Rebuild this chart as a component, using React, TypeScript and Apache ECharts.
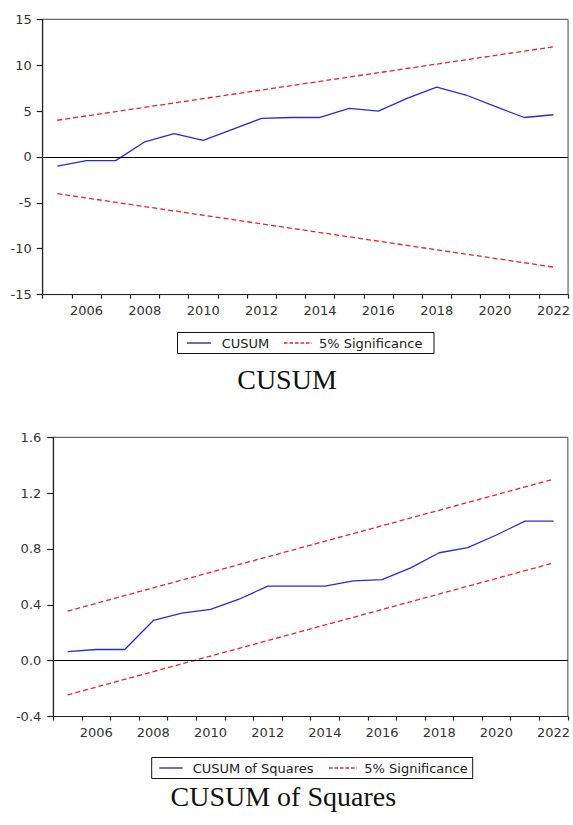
import React, { useEffect, useRef } from "react";
import * as echarts from "echarts";

const years = ["2005","2006","2007","2008","2009","2010","2011","2012","2013","2014","2015","2016","2017","2018","2019","2020","2021","2022"];

const cusum = [-1.0, -0.4, -0.4, 1.65, 2.55, 1.8, 3.0, 4.2, 4.3, 4.3, 5.3, 5.0, 6.4, 7.6, 6.75, 5.5, 4.3, 4.6];
const cusumUpper = [4, null, null, null, null, null, null, null, null, null, null, null, null, null, null, null, null, 12];
const cusumLower = [-4, null, null, null, null, null, null, null, null, null, null, null, null, null, null, null, null, -12];

const cusumSq = [0.064, 0.08, 0.08, 0.288, 0.34, 0.367, 0.44, 0.534, 0.534, 0.534, 0.572, 0.58, 0.665, 0.773, 0.81, 0.9, 1.0, 1.0];
const sqUpper = [0.355, null, null, null, null, null, null, null, null, null, null, null, null, null, null, null, null, 1.3];
const sqLower = [-0.245, null, null, null, null, null, null, null, null, null, null, null, null, null, null, null, null, 0.7];

const topTicks = { min: -15, max: 15, interval: 5 };
const bottomTicks = { min: -0.4, max: 1.6, interval: 0.4 };

const BLUE = "#2b2bd6";
const RED = "#e3262f";
const AXIS = "#222";
const LABEL_FONT = "DejaVu Sans";

export default function App() {
  const ref = useRef<HTMLDivElement>(null);
  useEffect(() => {
    if (!ref.current) return;
    const chart = echarts.init(ref.current, undefined, { renderer: "svg" });

    const xAxisBase = (gridIndex: number) => ({
      type: "category",
      gridIndex,
      data: years,
      boundaryGap: true,
      axisLine: { show: true, onZero: false, lineStyle: { color: AXIS, width: 1.2 } },
      axisTick: { show: true, interval: 0, alignWithLabel: false, length: 4, lineStyle: { color: AXIS, width: 1.2 } },
      axisLabel: {
        interval: (i: number) => i % 2 === 1,
        margin: 9,
        fontFamily: LABEL_FONT,
        fontSize: 13,
        color: "#333",
      },
      splitLine: { show: false },
    });

    const yAxisBase = (gridIndex: number, t: any, margin: number, fmt: (v: number) => string) => ({
      type: "value",
      gridIndex,
      min: t.min,
      max: t.max,
      interval: t.interval,
      axisLine: { show: true, onZero: false, lineStyle: { color: AXIS, width: 1.2 } },
      axisTick: { show: true, length: 6, lineStyle: { color: AXIS, width: 1.2 } },
      axisLabel: { margin, fontFamily: LABEL_FONT, fontSize: 13, color: "#333", formatter: fmt },
      splitLine: { show: false },
    });

    const zeroLine = {
      silent: true,
      symbol: ["none", "none"],
      label: { show: false },
      lineStyle: { color: "#000", type: "solid", width: 1.2 },
      data: [{ yAxis: 0 }],
    };

    const legendBox = (x: number, y: number, w: number, label1: string, t1x: number, l1: [number, number], l2: [number, number], t2x: number) => ({
      type: "group",
      children: [
        { type: "rect", shape: { x, y, width: w, height: 21 }, style: { fill: "#fff", stroke: "#111", lineWidth: 1 } },
        { type: "line", shape: { x1: l1[0], y1: y + 10.5, x2: l1[1], y2: y + 10.5 }, style: { stroke: "#20208a", lineWidth: 1.3 } },
        { type: "text", x: t1x, y: y + 10.5, style: { text: label1, font: `13px '${LABEL_FONT}'`, fill: "#222", verticalAlign: "middle", align: "left" } },
        { type: "line", shape: { x1: l2[0], y1: y + 10.5, x2: l2[1], y2: y + 10.5 }, style: { stroke: RED, lineWidth: 1.3, lineDash: [3.5, 2] } },
        { type: "text", x: t2x, y: y + 10.5, style: { text: "5% Significance", font: `13px '${LABEL_FONT}'`, fill: "#222", verticalAlign: "middle", align: "left" } },
      ],
    });

    const option: any = {
      animation: false,
      backgroundColor: "#fff",
      grid: [
        { left: 42.7, top: 19.3, width: 526, height: 275.3, show: true, borderColor: "#444", borderWidth: 1, containLabel: false },
        { left: 53.3, top: 437.3, width: 518.7, height: 279.2, show: true, borderColor: "#444", borderWidth: 1, containLabel: false },
      ],
      xAxis: [xAxisBase(0), xAxisBase(1)],
      yAxis: [
        yAxisBase(0, topTicks, 11, (v: number) => String(Math.round(v))),
        yAxisBase(1, bottomTicks, 12, (v: number) => (Math.abs(v) < 1e-9 ? "0.0" : v.toFixed(1))),
      ],
      series: [
        { name: "CUSUM", type: "line", xAxisIndex: 0, yAxisIndex: 0, data: cusum, symbol: "none", lineStyle: { color: BLUE, width: 1.3 }, itemStyle: { color: BLUE }, markLine: zeroLine, z: 3 },
        { name: "5% Significance", type: "line", xAxisIndex: 0, yAxisIndex: 0, data: cusumUpper, connectNulls: true, symbol: "none", lineStyle: { color: RED, width: 1.3, type: [5, 3] }, itemStyle: { color: RED } },
        { name: "5% Significance", type: "line", xAxisIndex: 0, yAxisIndex: 0, data: cusumLower, connectNulls: true, symbol: "none", lineStyle: { color: RED, width: 1.3, type: [5, 3] }, itemStyle: { color: RED } },
        { name: "CUSUM of Squares", type: "line", xAxisIndex: 1, yAxisIndex: 1, data: cusumSq, symbol: "none", lineStyle: { color: BLUE, width: 1.3 }, itemStyle: { color: BLUE }, markLine: zeroLine, z: 3 },
        { name: "5% Significance", type: "line", xAxisIndex: 1, yAxisIndex: 1, data: sqUpper, connectNulls: true, symbol: "none", lineStyle: { color: RED, width: 1.3, type: [5, 3] }, itemStyle: { color: RED } },
        { name: "5% Significance", type: "line", xAxisIndex: 1, yAxisIndex: 1, data: sqLower, connectNulls: true, symbol: "none", lineStyle: { color: RED, width: 1.3, type: [5, 3] }, itemStyle: { color: RED } },
      ],
      graphic: [
        legendBox(177.5, 332.5, 256.5, "CUSUM", 221.7, [187, 211], [284, 312], 319),
        legendBox(151.7, 757.5, 321, "CUSUM of Squares", 192.7, [159.3, 182.7], [329, 357], 364.3),
        { type: "text", x: 287, y: 379, style: { text: "CUSUM", font: "28px 'Liberation Serif'", fill: "#111", align: "center", verticalAlign: "middle" } },
        { type: "text", x: 283.3, y: 796, style: { text: "CUSUM of Squares", font: "28px 'Liberation Serif'", fill: "#111", align: "center", verticalAlign: "middle" } },
      ],
    };

    chart.setOption(option);
    return () => chart.dispose();
  }, []);

  return <div ref={ref} style={{ position: "absolute", left: 0, top: 0, width: 573, height: 825 }} />;
}
